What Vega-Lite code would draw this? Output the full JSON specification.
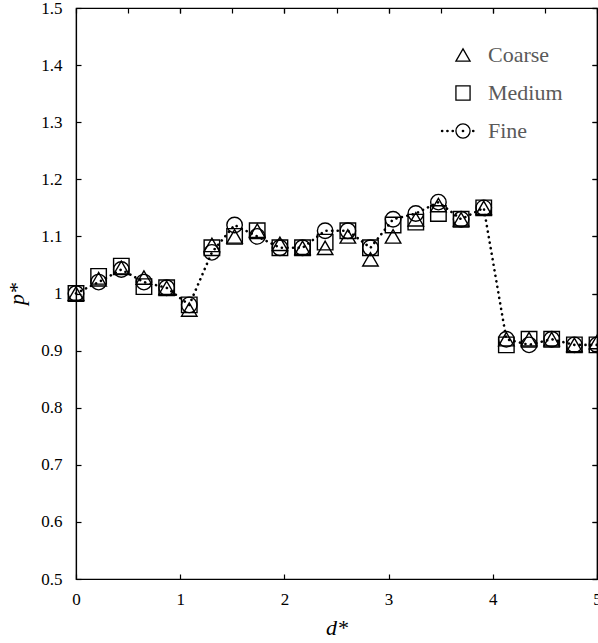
{
  "$schema": "https://vega.github.io/schema/vega-lite/v6.json",
  "width": 521,
  "height": 571,
  "autosize": {"type": "none"},
  "padding": {"left": 76, "top": 8, "right": 1, "bottom": 64},
  "background": "white",
  "config": {
    "view": {"stroke": "black", "strokeWidth": 1.2},
    "font": "Liberation Serif",
    "axis": {
      "grid": false,
      "domainColor": "black",
      "tickColor": "black",
      "labelColor": "black",
      "titleColor": "black",
      "labelFont": "Liberation Serif",
      "titleFont": "Liberation Serif",
      "labelFontSize": 17,
      "titleFontSize": 22,
      "titleFontWeight": "normal",
      "titleFontStyle": "italic",
      "tickSize": -5,
      "tickWidth": 1.2,
      "domainWidth": 1.2
    }
  },
  "data": {
    "values": [
      {"d": 0, "p": 1.0, "mesh": "Coarse"},
      {"d": 0.217, "p": 1.025, "mesh": "Coarse"},
      {"d": 0.435, "p": 1.045, "mesh": "Coarse"},
      {"d": 0.652, "p": 1.028, "mesh": "Coarse"},
      {"d": 0.87, "p": 1.01, "mesh": "Coarse"},
      {"d": 1.087, "p": 0.972, "mesh": "Coarse"},
      {"d": 1.304, "p": 1.085, "mesh": "Coarse"},
      {"d": 1.522, "p": 1.10, "mesh": "Coarse"},
      {"d": 1.739, "p": 1.11, "mesh": "Coarse"},
      {"d": 1.957, "p": 1.087, "mesh": "Coarse"},
      {"d": 2.174, "p": 1.08, "mesh": "Coarse"},
      {"d": 2.391, "p": 1.08, "mesh": "Coarse"},
      {"d": 2.609, "p": 1.10, "mesh": "Coarse"},
      {"d": 2.826, "p": 1.06, "mesh": "Coarse"},
      {"d": 3.043, "p": 1.10, "mesh": "Coarse"},
      {"d": 3.261, "p": 1.13, "mesh": "Coarse"},
      {"d": 3.478, "p": 1.155, "mesh": "Coarse"},
      {"d": 3.696, "p": 1.13, "mesh": "Coarse"},
      {"d": 3.913, "p": 1.15, "mesh": "Coarse"},
      {"d": 4.13, "p": 0.92, "mesh": "Coarse"},
      {"d": 4.348, "p": 0.92, "mesh": "Coarse"},
      {"d": 4.565, "p": 0.92, "mesh": "Coarse"},
      {"d": 4.783, "p": 0.91, "mesh": "Coarse"},
      {"d": 5.0, "p": 0.915, "mesh": "Coarse"},
      {"d": 0, "p": 1.0, "mesh": "Medium"},
      {"d": 0.217, "p": 1.03, "mesh": "Medium"},
      {"d": 0.435, "p": 1.048, "mesh": "Medium"},
      {"d": 0.652, "p": 1.012, "mesh": "Medium"},
      {"d": 0.87, "p": 1.01, "mesh": "Medium"},
      {"d": 1.087, "p": 0.98, "mesh": "Medium"},
      {"d": 1.304, "p": 1.08, "mesh": "Medium"},
      {"d": 1.522, "p": 1.10, "mesh": "Medium"},
      {"d": 1.739, "p": 1.11, "mesh": "Medium"},
      {"d": 1.957, "p": 1.08, "mesh": "Medium"},
      {"d": 2.174, "p": 1.08, "mesh": "Medium"},
      {"d": 2.391, "p": 1.09, "mesh": "Medium"},
      {"d": 2.609, "p": 1.11, "mesh": "Medium"},
      {"d": 2.826, "p": 1.08, "mesh": "Medium"},
      {"d": 3.043, "p": 1.12, "mesh": "Medium"},
      {"d": 3.261, "p": 1.125, "mesh": "Medium"},
      {"d": 3.478, "p": 1.14, "mesh": "Medium"},
      {"d": 3.696, "p": 1.13, "mesh": "Medium"},
      {"d": 3.913, "p": 1.15, "mesh": "Medium"},
      {"d": 4.13, "p": 0.91, "mesh": "Medium"},
      {"d": 4.348, "p": 0.92, "mesh": "Medium"},
      {"d": 4.565, "p": 0.92, "mesh": "Medium"},
      {"d": 4.783, "p": 0.91, "mesh": "Medium"},
      {"d": 5.0, "p": 0.91, "mesh": "Medium"},
      {"d": 0, "p": 1.0, "mesh": "Fine"},
      {"d": 0.217, "p": 1.02, "mesh": "Fine"},
      {"d": 0.435, "p": 1.042, "mesh": "Fine"},
      {"d": 0.652, "p": 1.02, "mesh": "Fine"},
      {"d": 0.87, "p": 1.01, "mesh": "Fine"},
      {"d": 1.087, "p": 0.98, "mesh": "Fine"},
      {"d": 1.304, "p": 1.072, "mesh": "Fine"},
      {"d": 1.522, "p": 1.12, "mesh": "Fine"},
      {"d": 1.739, "p": 1.10, "mesh": "Fine"},
      {"d": 1.957, "p": 1.08, "mesh": "Fine"},
      {"d": 2.174, "p": 1.08, "mesh": "Fine"},
      {"d": 2.391, "p": 1.11, "mesh": "Fine"},
      {"d": 2.609, "p": 1.11, "mesh": "Fine"},
      {"d": 2.826, "p": 1.08, "mesh": "Fine"},
      {"d": 3.043, "p": 1.13, "mesh": "Fine"},
      {"d": 3.261, "p": 1.14, "mesh": "Fine"},
      {"d": 3.478, "p": 1.16, "mesh": "Fine"},
      {"d": 3.696, "p": 1.13, "mesh": "Fine"},
      {"d": 3.913, "p": 1.15, "mesh": "Fine"},
      {"d": 4.13, "p": 0.92, "mesh": "Fine"},
      {"d": 4.348, "p": 0.91, "mesh": "Fine"},
      {"d": 4.565, "p": 0.92, "mesh": "Fine"},
      {"d": 4.783, "p": 0.91, "mesh": "Fine"},
      {"d": 5.0, "p": 0.91, "mesh": "Fine"}
    ]
  },
  "encoding": {
    "x": {
      "field": "d",
      "type": "quantitative",
      "scale": {"domain": [0, 5], "nice": false, "zero": false},
      "axis": {
        "values": [0, 1, 2, 3, 4, 5],
        "title": "d*",
        "labelFont": "Liberation Serif",
        "labelFontSize": 17,
        "titleFont": "Liberation Serif",
        "labelPadding": 17,
        "titlePadding": 10,
        "labelFlush": false,
        "labelOverlap": false
      }
    },
    "y": {
      "field": "p",
      "type": "quantitative",
      "scale": {"domain": [0.5, 1.5], "nice": false, "zero": false},
      "axis": {
        "values": [0.5, 0.6, 0.7, 0.8, 0.9, 1.0, 1.1, 1.2, 1.3, 1.4, 1.5],
        "format": ".1~f",
        "title": "p*",
        "labelFont": "Liberation Serif",
        "labelFontSize": 17,
        "titleFont": "Liberation Serif",
        "labelPadding": 19,
        "titlePadding": 12,
        "labelFlush": false,
        "labelOverlap": false
      }
    }
  },
  "layer": [
    {
      "transform": [{"filter": "datum.mesh !== 'Fine'"}],
      "mark": {"type": "point", "filled": false, "stroke": "black", "strokeWidth": 1.4, "size": 240, "opacity": 1, "clip": false},
      "encoding": {
        "shape": {
          "field": "mesh",
          "type": "nominal",
          "scale": {"domain": ["Coarse", "Medium", "Fine"], "range": ["triangle-up", "square", "M-1,0A1,1,0,1,1,1,0A1,1,0,1,1,-1,0Z M-0.1,0A0.1,0.1,0,1,1,0.1,0A0.1,0.1,0,1,1,-0.1,0Z M-1.55,0A0.1,0.1,0,1,1,-1.35,0A0.1,0.1,0,1,1,-1.55,0Z M-2.3,0A0.1,0.1,0,1,1,-2.1,0A0.1,0.1,0,1,1,-2.3,0Z M-3.05,0A0.1,0.1,0,1,1,-2.85,0A0.1,0.1,0,1,1,-3.05,0Z M1.35,0A0.1,0.1,0,1,1,1.55,0A0.1,0.1,0,1,1,1.35,0Z"]},
          "legend": {
            "title": null,
            "orient": "none",
            "legendX": 376,
            "legendY": 36,
            "symbolSize": 200,
            "symbolStrokeWidth": 1.3,
            "symbolStrokeColor": "black",
            "symbolFillColor": "transparent",
            "labelFont": "Liberation Serif",
            "labelFontSize": 22,
            "labelColor": "#5a5a5a",
            "labelOffset": 14,
            "rowPadding": 16,
            "symbolOffset": 0
          }
        }
      }
    },
    {
      "transform": [{"filter": "datum.mesh === 'Fine'"}],
      "mark": {"type": "point", "shape": "circle", "filled": false, "stroke": "black", "strokeWidth": 1.4, "size": 240, "opacity": 1, "clip": false}
    },
    {
      "transform": [{"filter": "datum.mesh === 'Fine'"}],
      "mark": {"type": "line", "stroke": "black", "strokeWidth": 2.6, "strokeDash": [0.1, 5.5], "strokeCap": "round", "clip": false},
      "encoding": {
        "y": {
          "field": "p",
          "type": "quantitative",
          "axis": {
            "orient": "right",
            "values": [0.5, 0.6, 0.7, 0.8, 0.9, 1.0, 1.1, 1.2, 1.3, 1.4, 1.5],
            "labels": false,
            "title": null,
            "domain": false
          }
        },
        "x": {
          "field": "d",
          "type": "quantitative",
          "axis": {
            "orient": "top",
            "values": [0.5, 1, 1.5, 2, 2.5, 3, 3.5, 4, 4.5],
            "labels": false,
            "title": null,
            "domain": false
          }
        }
      }
    }
  ],
  "resolve": {"axis": {"x": "independent", "y": "independent"}}
}
